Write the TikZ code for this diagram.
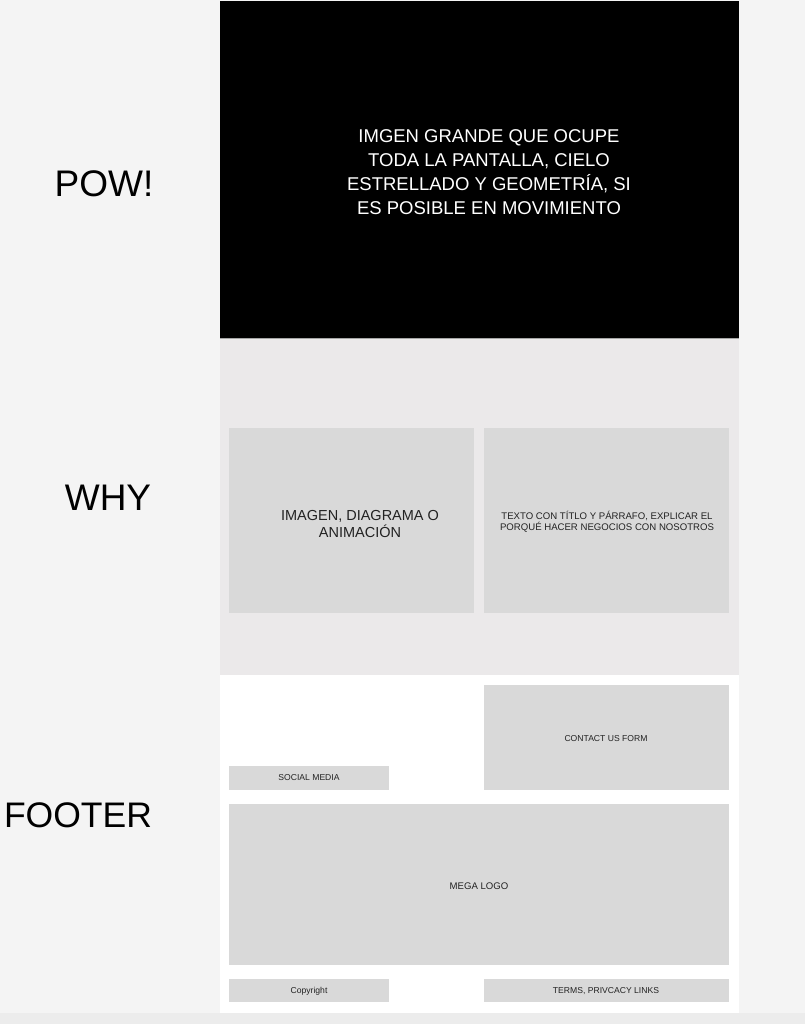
\documentclass[tikz,border=0pt]{standalone}
\usepackage{fontspec}
\setmainfont{Liberation Sans}
\definecolor{canvas}{HTML}{F4F4F4}
\definecolor{band}{HTML}{ECECEC}
\definecolor{whybg}{HTML}{EBE9EA}
\definecolor{boxgray}{HTML}{D9D9D9}
\definecolor{boxtext}{HTML}{222222}
\begin{document}
\begin{tikzpicture}[x=1pt,y=-1pt,
  sectionlabel/.style={font=\fontsize{37}{42}\selectfont, text=black, inner sep=0pt, anchor=center},
  boxlabel/.style={text=boxtext, align=center, inner sep=0pt, anchor=center},
  graybox/.style={fill=boxgray, draw=none}]
\useasboundingbox (0,0) rectangle (805,1024);
\fill[canvas] (0,0) rectangle (805,1024);
\fill[band] (0,1013) rectangle (805,1024);
% page column
\fill[white] (220,675) rectangle (739,1013);
\fill[whybg] (220,338) rectangle (739,675);
\fill[black] (220,1) rectangle (739,338);
\draw[gray!70, line width=0.6pt] (220,338) -- (739,338);
% hero text
\node[text=white, align=center, inner sep=0pt, font=\fontsize{18.5}{24}\selectfont] (hero) at (489,172)
  {IMGEN GRANDE QUE OCUPE\\TODA LA PANTALLA, CIELO\\ESTRELLADO Y GEOMETRÍA, SI\\ES POSIBLE EN MOVIMIENTO};
% section labels
\node[sectionlabel] (pow) at (104,184) {POW!};
\node[sectionlabel] (why) at (108,498) {WHY};
\node[sectionlabel, font=\fontsize{35.5}{40}\selectfont] (footer) at (78,815) {FOOTER};
% why boxes
\fill[graybox] (229,428) rectangle (474,613);
\fill[graybox] (484,428) rectangle (729,613);
\node[boxlabel, font=\fontsize{14.5}{17.5}\selectfont] (img) at (360,524) {IMAGEN, DIAGRAMA O\\ANIMACIÓN};
\node[boxlabel, font=\fontsize{9.6}{11.4}\selectfont] (txt) at (607,522) {TEXTO CON TÍTLO Y PÁRRAFO, EXPLICAR EL\\PORQUÉ HACER NEGOCIOS CON NOSOTROS};
% footer boxes
\fill[graybox] (484,685) rectangle (729,790);
\node[boxlabel, font=\fontsize{8.6}{10}\selectfont] (contact) at (606,739) {CONTACT US FORM};
\fill[graybox] (229,766) rectangle (389,790);
\node[boxlabel, font=\fontsize{8.6}{10}\selectfont] (social) at (309,778) {SOCIAL MEDIA};
\fill[graybox] (229,804) rectangle (729,965);
\node[boxlabel, font=\fontsize{9.6}{11}\selectfont] (mega) at (479,886) {MEGA LOGO};
\fill[graybox] (229,979) rectangle (389,1002);
\node[boxlabel, font=\fontsize{8.6}{10}\selectfont] (copy) at (309,991) {Copyright};
\fill[graybox] (484,979) rectangle (729,1002);
\node[boxlabel, font=\fontsize{8.6}{10}\selectfont] (terms) at (606,991) {TERMS, PRIVCACY LINKS};
\end{tikzpicture}
\end{document}
